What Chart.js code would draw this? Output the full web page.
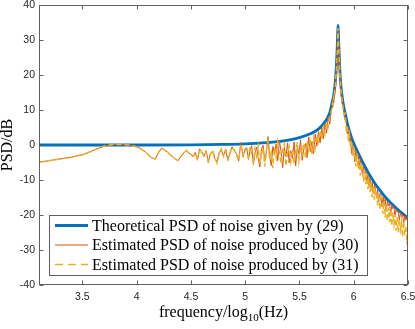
<!DOCTYPE html>
<html lang="en">
<head>
<meta charset="UTF-8">
<title>PSD of noise</title>
<script src="https://cdn.jsdelivr.net/npm/chart.js@4"></script>
<style>
  html, body { margin: 0; padding: 0; background: #fff; }
  #wrap { width: 415px; height: 329px; }
</style>
</head>
<body>
<div id="wrap"><canvas id="psdChart" width="415" height="329"></canvas></div>
<script>
  // axis ticks
  const xTicks = [3.5, 4, 4.5, 5, 5.5, 6, 6.5];
  const yTicks = [-40, -30, -20, -10, 0, 10, 20, 30, 40];
  const legendLabels = [
    'Theoretical PSD of noise given by (29)',
    'Estimated PSD of noise produced by (30)',
    'Estimated PSD of noise produced by (31)'
  ];

  // theoretical curve (log10 Hz, dB)
  const thFreq = [3.1, 4.0, 4.5, 4.8, 5.0, 5.1, 5.2, 5.3, 5.4, 5.5, 5.6, 5.65, 5.7, 5.75, 5.78, 5.8,
    5.81, 5.82, 5.83, 5.84, 5.845, 5.85, 5.853, 5.856, 5.86, 5.865, 5.87, 5.88, 5.89, 5.9, 5.92,
    5.95, 5.98, 6.0, 6.05, 6.1, 6.15, 6.2, 6.25, 6.3, 6.35, 6.4, 6.45, 6.5];
  const thPsd = [0, 0, 0.05, 0.15, 0.3, 0.45, 0.65, 0.95, 1.4, 2.1, 3.2, 4.0, 5.3, 7.3, 9.3, 12.0,
    13.3, 15.3, 18.0, 22.5, 25.8, 29.8, 32.5, 34.2, 31.0, 26.5, 22.5, 17.6, 14.6, 12.3, 9.2,
    5.1, 2.1, 0.5, -2.9, -6.0, -8.8, -11.2, -13.3, -15.2, -16.8, -18.3, -19.6, -20.8];

  // estimated PSDs share the same frequency bins
  const estFreq = [
    3.1, 3.25, 3.4, 3.52, 3.62, 3.7, 3.77, 3.83, 3.88, 3.93, 3.97, 4.01, 4.05, 4.08, 4.11, 4.14,
    4.17, 4.2, 4.23, 4.25, 4.28, 4.3, 4.32, 4.34, 4.36, 4.38, 4.4, 4.42, 4.44, 4.46, 4.48, 4.5,
    4.52, 4.54, 4.56, 4.58, 4.6, 4.62, 4.64, 4.66, 4.68, 4.7, 4.72, 4.74, 4.76, 4.78, 4.8, 4.82,
    4.84, 4.86, 4.88, 4.9, 4.92, 4.94, 4.96, 4.98, 5.0,
    5.015, 5.03, 5.045, 5.06, 5.075, 5.09, 5.105, 5.12, 5.135, 5.15,
    5.165, 5.18, 5.195, 5.21, 5.225, 5.24, 5.255, 5.27, 5.285, 5.3,
    5.315, 5.33, 5.345, 5.36, 5.375, 5.39, 5.405, 5.42, 5.435, 5.45,
    5.465, 5.48, 5.495, 5.51, 5.525, 5.54, 5.555, 5.57, 5.585, 5.6,
    5.615, 5.63, 5.645, 5.66, 5.675, 5.69, 5.705, 5.72, 5.735, 5.75,
    5.765, 5.78, 5.795,
    5.805, 5.81, 5.815, 5.82, 5.825, 5.83, 5.835, 5.84, 5.845, 5.85,
    5.855, 5.86, 5.865, 5.87, 5.875, 5.88, 5.885, 5.89, 5.895, 5.9,
    5.91, 5.92, 5.93, 5.94, 5.95, 5.96, 5.97, 5.98, 5.99, 6.0,
    6.01, 6.02, 6.03, 6.04, 6.05, 6.06, 6.07, 6.08, 6.09, 6.1,
    6.11, 6.12, 6.13, 6.14, 6.15, 6.16, 6.17, 6.18, 6.19, 6.2,
    6.21, 6.22, 6.23, 6.24, 6.25, 6.26, 6.27, 6.28, 6.29, 6.3,
    6.31, 6.32, 6.33, 6.34, 6.35, 6.36, 6.37, 6.38, 6.39, 6.4,
    6.41, 6.42, 6.43, 6.44, 6.45, 6.46, 6.47, 6.48, 6.49, 6.5
  ];
  const est30Psd = [
    -4.9, -4.2, -3.5, -2.6, -1.3, -0.3, 0.1, 0.2, 0.1, 0.0, -0.3, -0.6, -1.3, -2.0, -2.9, -3.7,
    -4.0, -2.2, -0.9, -1.3, -1.9, -2.5, -3.1, -3.6, -4.0, -4.5, -3.6, -2.8, -2.0, -1.6, -2.3, -2.6,
    -3.4, -2.1, -4.3, -1.1, -2.0, -3.3, -1.6, -5.0, -2.4, -1.8, -3.9, -4.8, -2.2, -1.4, -3.0, -1.2,
    -4.4, -2.1, -0.5, -1.7, -2.5, -4.6, 0.7, -3.4, -1.0,
    -0.8, -4.2, -1.5, -0.2, -5.6, -2.3, -0.6, -3.8, -6.3, -1.2,
    -0.1, -4.7, -2.0, 2.4, -3.1, -5.9, -0.4, -2.7, 0.3, -4.5,
    1.3, -1.8, -6.5, -0.9, -3.4, 0.6, -5.1, -1.6, -3.9, 0.9,
    -6.0, -0.5, -2.8, 1.5, -4.4, -1.1, 0.4, -3.6, 2.3, -1.9,
    1.0, -2.4, 3.1, -0.3, 3.8, 0.6, 4.9, 1.8, 6.1, 3.4,
    7.9, 6.0, 10.6,
    11.0, 12.9, 12.2, 14.6, 15.1, 17.0, 18.5, 21.4, 24.0, 28.2,
    32.8, 30.1, 24.6, 21.8, 18.0, 16.9, 14.2, 13.8, 11.9, 11.5,
    9.8, 7.1, 6.9, 3.2, 4.6, 1.1, 2.4, -2.6, 0.2, -1.9,
    -4.8, -1.5, -3.9, -2.8, -6.2, -4.1, -5.9, -8.6, -6.0, -8.3,
    -7.2, -10.4, -8.5, -11.6, -9.4, -12.8, -10.6, -13.9, -11.5, -12.4,
    -15.2, -12.8, -16.3, -13.9, -14.1, -17.6, -14.8, -16.9, -15.3, -18.8,
    -16.0, -17.4, -16.5, -19.9, -17.3, -18.2, -17.6, -20.5, -18.4, -19.1,
    -18.9, -21.4, -19.3, -20.6, -19.8, -22.3, -20.2, -21.5, -20.7, -22.0
  ];
  const est31Psd = [
    -4.9, -4.2, -3.5, -2.6, -1.3, -0.3, 0.1, 0.2, 0.1, 0.0, -0.3, -0.6, -1.3, -2.0, -2.9, -3.7,
    -4.0, -2.2, -0.9, -1.3, -1.9, -2.5, -3.1, -3.6, -4.0, -4.5, -3.6, -2.8, -2.0, -1.6, -2.3, -2.6,
    -3.2, -2.4, -4.0, -1.3, -2.3, -3.0, -1.9, -4.6, -2.7, -1.5, -3.6, -5.2, -2.5, -1.1, -3.3, -1.5,
    -4.1, -2.4, -0.8, -1.4, -2.8, -4.3, 0.4, -3.1, -1.3,
    -1.4, -3.5, -0.6, -2.8, -4.9, -1.0, -3.2, -0.4, -5.4, -2.6,
    -0.7, -6.1, -1.3, 1.2, -4.0, -2.2, -6.6, -0.8, -3.5, 0.8,
    -2.0, -5.2, -1.1, 0.2, -6.0, -2.4, -0.3, -4.8, -1.2, -5.5,
    -2.0, 0.8, -4.6, -0.7, -2.5, 0.5, -3.8, 1.2, -1.5, 0.9,
    -2.9, 2.0, -0.8, 2.5, 0.9, 4.1, 1.7, 5.0, 3.1, 6.4,
    5.2, 8.6, 9.8,
    12.0, 11.6, 13.8, 13.5, 16.0, 16.3, 19.6, 20.7, 25.2, 27.0,
    33.4, 29.5, 25.8, 20.6, 19.1, 15.8, 15.2, 12.7, 12.6, 10.8,
    8.6, 9.0, 4.8, 5.7, 1.9, 3.3, -0.8, 1.2, -3.4, -0.6,
    -2.5, -6.1, -2.4, -6.8, -4.0, -8.7, -5.2, -7.1, -10.4, -7.3,
    -11.2, -8.4, -12.6, -9.7, -13.5, -10.5, -14.9, -11.8, -15.6, -13.0,
    -13.4, -17.2, -14.0, -18.5, -15.1, -15.3, -19.6, -16.0, -20.8, -17.1,
    -21.7, -17.9, -22.0, -18.4, -23.1, -19.2, -22.6, -19.8, -24.5, -20.6,
    -25.0, -21.1, -24.2, -22.0, -26.3, -21.8, -25.7, -23.0, -28.4, -22.9
  ];

  const colors = ['#0072BD', '#D95319', '#EDB120'];
  const pts = (xs, ys) => xs.map((x, i) => ({ x: x, y: ys[i] }));

  // box, inward ticks, axis titles and legend in MATLAB style
  const matlabDecor = {
    id: 'matlabDecor',
    afterDraw(chart) {
      const ctx = chart.ctx;
      const a = chart.chartArea;
      const xs = chart.scales.x, ys = chart.scales.y;
      const L = Math.round(a.left) + 0.5, R = Math.round(a.right) - 0.5;
      const T = Math.round(a.top) + 0.5, B = Math.round(a.bottom) - 0.5;
      ctx.save();
      ctx.strokeStyle = '#606060';
      ctx.lineWidth = 1;
      ctx.strokeRect(L, T, R - L, B - T);
      ctx.beginPath();
      xTicks.forEach(v => {
        const px = Math.round(xs.getPixelForValue(v)) + 0.5;
        ctx.moveTo(px, B); ctx.lineTo(px, B - 4);
        ctx.moveTo(px, T); ctx.lineTo(px, T + 4);
      });
      yTicks.forEach(v => {
        const py = Math.round(ys.getPixelForValue(v)) + 0.5;
        ctx.moveTo(L, py); ctx.lineTo(L + 4, py);
        ctx.moveTo(R, py); ctx.lineTo(R - 4, py);
      });
      ctx.stroke();

      // axis titles
      ctx.fillStyle = '#000';
      ctx.font = '16px "Liberation Serif"';
      ctx.textBaseline = 'alphabetic';
      const main = 'frequency/log', sub = '10', tail = '(Hz)';
      const w1 = ctx.measureText(main).width, w3 = ctx.measureText(tail).width;
      ctx.font = '11px "Liberation Serif"';
      const w2 = ctx.measureText(sub).width;
      let tx = (a.left + a.right) / 2 - (w1 + w2 + w3) / 2;
      ctx.font = '16px "Liberation Serif"';
      ctx.textAlign = 'left';
      ctx.fillText(main, tx, 317);
      ctx.font = '11px "Liberation Serif"';
      ctx.fillText(sub, tx + w1, 321);
      ctx.font = '16px "Liberation Serif"';
      ctx.fillText(tail, tx + w1 + w2, 317);

      ctx.save();
      ctx.translate(12, (a.top + a.bottom) / 2);
      ctx.rotate(-Math.PI / 2);
      ctx.textAlign = 'center';
      ctx.fillText('PSD/dB', 0, 0);
      ctx.restore();

      // legend box
      ctx.fillStyle = '#fff';
      ctx.fillRect(49.5, 215.5, 318, 60);
      ctx.strokeStyle = '#606060';
      ctx.strokeRect(49.5, 215.5, 318, 60);
      const rows = [225.5, 245, 264.5];
      const widths = [2.8, 1, 1.5];
      rows.forEach((ry, i) => {
        ctx.beginPath();
        ctx.strokeStyle = colors[i];
        ctx.lineWidth = widths[i];
        ctx.setLineDash(i === 2 ? [8, 5] : []);
        ctx.moveTo(55, ry); ctx.lineTo(88, ry);
        ctx.stroke();
        ctx.setLineDash([]);
        ctx.fillStyle = '#000';
        ctx.font = '16px "Liberation Serif"';
        ctx.textAlign = 'left';
        ctx.textBaseline = 'middle';
        ctx.fillText(legendLabels[i], 92, ry + 1);
      });
      ctx.restore();
    }
  };

  const tickFont = { family: '"Liberation Sans", Arial, sans-serif', size: 10.5 };

  const chart = new Chart(document.getElementById('psdChart'), {
    type: 'line',
    data: {
      datasets: [
        { label: legendLabels[0], data: pts(thFreq, thPsd), borderColor: colors[0], borderWidth: 2.8,
          pointRadius: 0, cubicInterpolationMode: 'monotone', order: 3 },
        { label: legendLabels[1], data: pts(estFreq, est30Psd), borderColor: colors[1], borderWidth: 1,
          pointRadius: 0, tension: 0, order: 2 },
        { label: legendLabels[2], data: pts(estFreq, est31Psd), borderColor: colors[2], borderWidth: 1.5,
          borderDash: [5, 3], pointRadius: 0, tension: 0, order: 1 }
      ]
    },
    options: {
      responsive: false,
      animation: false,
      devicePixelRatio: 1,
      layout: { padding: { left: 0, right: 7, top: 5, bottom: 0 } },
      plugins: { legend: { display: false }, tooltip: { enabled: false } },
      scales: {
        x: {
          type: 'linear', min: 3.1, max: 6.5,
          grid: { display: false, drawTicks: false },
          border: { display: false },
          ticks: { font: tickFont, color: '#262626', padding: 6, maxRotation: 0, callback: v => String(v) },
          afterBuildTicks: s => { s.ticks = xTicks.map(v => ({ value: v })); },
          afterFit: s => { s.height = 44; s.paddingLeft = 0; s.paddingRight = 0; }
        },
        y: {
          min: -40, max: 40,
          grid: { display: false, drawTicks: false },
          border: { display: false },
          ticks: { font: tickFont, color: '#262626', padding: 4, callback: v => String(v) },
          afterBuildTicks: s => { s.ticks = yTicks.map(v => ({ value: v })); },
          afterFit: s => { s.width = 39; s.paddingTop = 0; s.paddingBottom = 0; }
        }
      }
    },
    plugins: [matlabDecor]
  });
</script>
</body>
</html>
